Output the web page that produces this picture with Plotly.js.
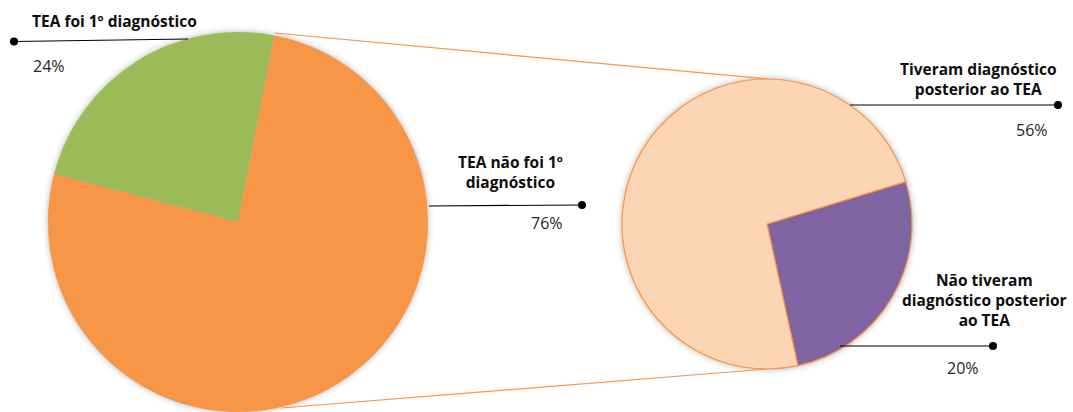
<!DOCTYPE html>
<html>
<head>
<meta charset="utf-8">
<script src="https://cdn.plot.ly/plotly-3.0.1.min.js"></script>
<style>
  html, body { margin: 0; padding: 0; background: #ffffff; }
  #chart { width: 1073px; height: 412px; }
  .pielayer .trace { filter: drop-shadow(0px 0px 3px rgba(0, 0, 0, 0.30)); }
</style>
</head>
<body>
<div id="chart"></div>
<script>
// First diagnosis split
const mainLabels = ['TEA foi 1º diagnóstico', 'TEA não foi 1º diagnóstico'];
const mainValues = [24, 76];
const mainColors = ['#9BBB59', '#F79646'];

// Breakdown of the "not first diagnosis" share
const subLabels = ['Não tiveram diagnóstico posterior ao TEA', 'Tiveram diagnóstico posterior ao TEA'];
const subValues = [20, 56];
const subColors = ['#8064A2', '#FCD5B5'];

const W = 1073, H = 412;
const px = x => x / W;
const py = y => 1 - y / H;

const FONT = '"Open Sans", Lato, sans-serif';

const traces = [
  {
    type: 'pie',
    labels: mainLabels,
    values: mainValues,
    marker: { colors: mainColors, line: { width: 0 } },
    sort: false,
    direction: 'clockwise',
    rotation: 284.6,
    textinfo: 'none',
    hoverinfo: 'none',
    showlegend: false,
    domain: { x: [px(48), px(428)], y: [py(412), py(32)] }
  },
  {
    type: 'pie',
    labels: subLabels,
    values: subValues,
    marker: { colors: subColors, line: { color: '#F79646', width: 1.2 } },
    sort: false,
    direction: 'clockwise',
    rotation: 73,
    textinfo: 'none',
    hoverinfo: 'none',
    showlegend: false,
    domain: { x: [px(622), px(912)], y: [py(369), py(79)] }
  }
];

const pct = v => v + '%';

function leader(x0, y0, x1, y1, dotX, dotY) {
  return [
    { type: 'line', xref: 'paper', yref: 'paper',
      x0: px(x0), y0: py(y0), x1: px(x1), y1: py(y1),
      line: { color: '#000000', width: 1.2 } },
    { type: 'circle', xref: 'paper', yref: 'paper',
      x0: px(dotX - 4), y0: py(dotY + 4), x1: px(dotX + 4), y1: py(dotY - 4),
      fillcolor: '#000000', line: { color: '#000000', width: 0 } }
  ];
}

const shapes = [
  // connectors between the two pies
  { type: 'line', xref: 'paper', yref: 'paper',
    x0: px(275), y0: py(33), x1: px(767), y1: py(79),
    line: { color: '#F79646', width: 1.2 } },
  { type: 'line', xref: 'paper', yref: 'paper',
    x0: px(281), y0: py(408), x1: px(767), y1: py(369),
    line: { color: '#F79646', width: 1.2 } },
  ...leader(14, 41.5, 188, 39, 14, 41.5),
  ...leader(429, 206, 582, 205, 582, 205),
  ...leader(850, 105, 1058, 105, 1058, 105),
  ...leader(840, 346, 993, 346, 993, 346)
];

function title(text, x, y) {
  return { text: text, xref: 'paper', yref: 'paper', x: px(x), y: py(y),
    xanchor: 'center', yanchor: 'middle', align: 'center', showarrow: false,
    font: { family: FONT, size: 15.5, color: '#0d0d0d', weight: 700 } };
}
function value(text, x, y) {
  return { text: text, xref: 'paper', yref: 'paper', x: px(x), y: py(y),
    xanchor: 'center', yanchor: 'middle', showarrow: false,
    font: { family: FONT, size: 16, color: '#262626' } };
}

const annotations = [
  title(mainLabels[0], 114, 21),
  value(pct(mainValues[0]), 49, 66),
  title('TEA não foi 1º<br>diagnóstico', 510, 172),
  value(pct(mainValues[1]), 547, 223),
  title('Tiveram diagnóstico<br>posterior ao TEA', 978, 79),
  value(pct(subValues[1]), 1032, 130),
  title('Não tiveram<br>diagnóstico posterior<br>ao TEA', 984, 300),
  value(pct(subValues[0]), 963, 368)
];

const layout = {
  width: W,
  height: H,
  margin: { l: 0, r: 0, t: 0, b: 0 },
  paper_bgcolor: '#ffffff',
  showlegend: false,
  shapes: shapes,
  annotations: annotations
};

Plotly.newPlot('chart', traces, layout, { displayModeBar: false, staticPlot: true });
</script>
</body>
</html>
